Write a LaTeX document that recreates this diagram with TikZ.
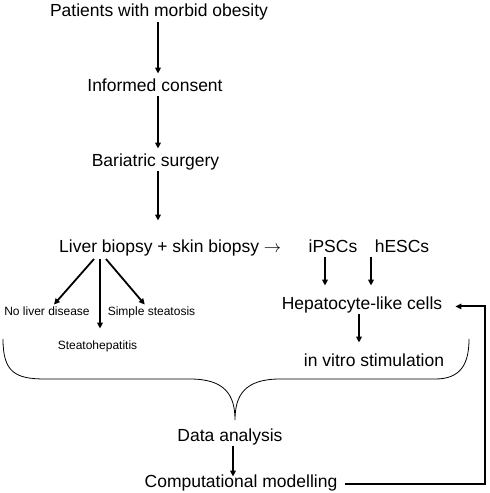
\documentclass[tikz,border=0pt]{standalone}
\usepackage{fontspec}
\setmainfont{Liberation Sans}
\usetikzlibrary{arrows.meta}

\begin{document}
\begin{tikzpicture}[x=1pt,y=-1pt,
  stage/.style={font=\fontsize{17.5}{21}\selectfont, inner sep=3pt, text height=0.72em, text depth=0.21em, anchor=base},
  finding/.style={font=\fontsize{12}{14}\selectfont, inner sep=3pt, text height=0.72em, text depth=0.21em, anchor=base},
  flow/.style={-{Triangle[length=6pt,width=5.5pt]}, line width=1.8pt},
  short/.style={flow, shorten >=13pt}]
\useasboundingbox (0,0) rectangle (490,493);

\node[stage] (patients) at (159,16.5) {Patients with morbid obesity};
\node[stage] (consent) at (155,91) {Informed consent};
\node[stage] (surgery) at (155.5,166) {Bariatric surgery};
\node[stage, anchor=base west] (biopsy) at (56,252) {Liver biopsy + skin biopsy $\rightarrow$};
\node[stage] (ipsc) at (333,252) {iPSCs};
\node[stage] (hesc) at (402,252) {hESCs};
\node[stage] (hepato) at (362,309) {Hepatocyte-like cells};
\node[stage] (vitro) at (374,366) {in vitro stimulation};
\node[stage] (analysis) at (230,441) {Data analysis};
\node[stage] (model) at (241,487) {Computational modelling};

\node[finding] (noliver) at (47,315) {No liver disease};
\node[finding] (simple) at (151.5,315) {Simple steatosis};
\node[finding] (nash) at (97.5,349) {Steatohepatitis};

\coordinate (spine) at (158,0);
\coordinate (split) at (100,259);
\coordinate (loop) at (485,0);

\draw[flow, shorten >=7pt] (patients.south -| spine) -- (consent.north -| spine);
\draw[flow, shorten >=7pt] (consent.south -| spine) -- (surgery.north -| spine);
\draw[flow, shorten >=21pt] (surgery.south -| spine) -- (biopsy.north -| spine);

\draw[flow] ([xshift=-6pt]split) -- (noliver);
\draw[flow, shorten >=10pt] (split) -- (split |- nash.north);
\draw[flow] ([xshift=6pt]split) -- (simple);

\draw[short] ([xshift=-8pt]ipsc.south) -- ([xshift=-8pt]ipsc.south |- hepato.north);
\draw[short] ([xshift=-31pt]hesc.south) -- ([xshift=-31pt]hesc.south |- hepato.north);
\draw[short] ([xshift=-3pt]hepato.south) -- ([xshift=-3pt]hepato.south |- vitro.north);

\draw[line width=0.8pt] (3,339) .. controls (3,372) and (15,379) .. (45,379) -- (190,379) .. controls (225,379) and (235,395) .. (235,420) .. controls (235,395) and (245,379) .. (280,379) -- (435,379) .. controls (460,379) and (469,365) .. (469,339);

\draw[flow] ([xshift=3pt]analysis.south) -- ([xshift=3pt]analysis.south |- model.north);
\draw[flow, line width=2pt, shorten <=4pt, shorten >=10pt] (model.east) -- (model.east -| loop) -- (hepato.east -| loop) -- (hepato.east);
\end{tikzpicture}
\end{document}
